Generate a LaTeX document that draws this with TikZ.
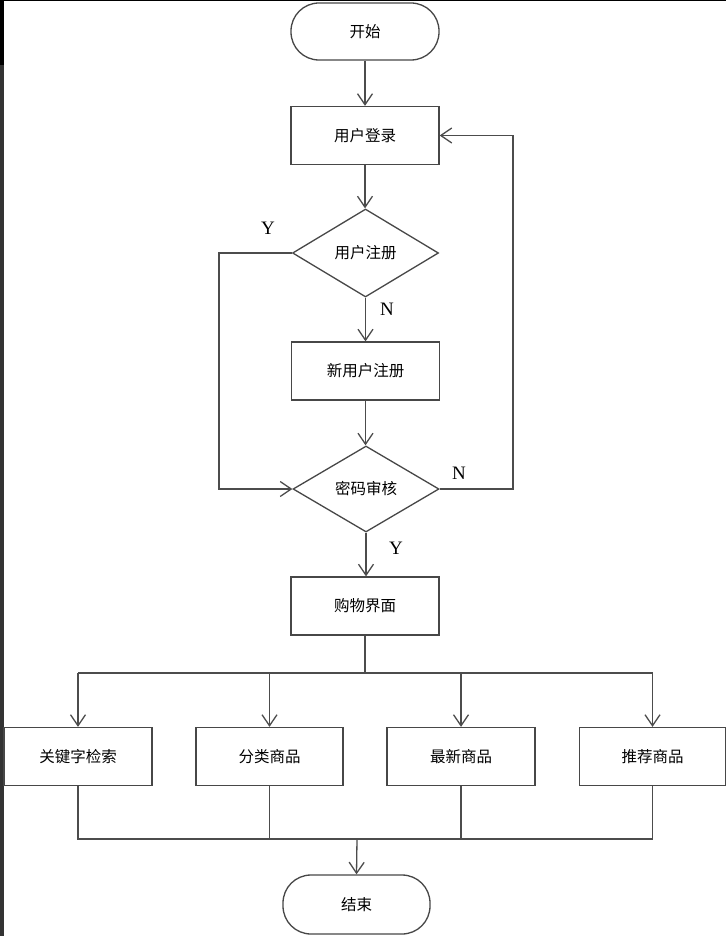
\documentclass[tikz,border=0pt]{standalone}
\usepackage{fontspec}
\newfontfamily\cjk{Noto Sans CJK SC}
\newfontfamily\lat{Liberation Serif}
\usetikzlibrary{shapes.geometric,arrows.meta}
\begin{document}
\begin{tikzpicture}[x=1pt,y=-1pt,
  line width=1.3pt,
  every node/.style={font=\cjk\fontsize{15.5}{17}\selectfont, draw=black!72, line width=1.3pt, inner sep=0pt},
  term/.style={rectangle, rounded corners=28pt, minimum width=148pt, minimum height=57pt},
  box/.style={rectangle, minimum width=148pt, minimum height=58pt},
  dec/.style={diamond, minimum width=146pt, minimum height=88pt},
  lbl/.style={draw=none, font=\lat\fontsize{19}{20}\selectfont},
  arr/.style={draw=black!70, -{Straight Barb[length=11pt,width=15pt,line width=1.3pt]}},
  ln/.style={draw=black!70}]
\useasboundingbox (0,0) rectangle (726,936);
\fill[white] (0,0) rectangle (726,936);
\fill[black!80] (0,0) rectangle (3.5,936);
\fill[black] (0,0) rectangle (3.5,65);
\fill[black] (0,0) rectangle (726,1.2);

\node[term] (start) at (365,31.5) {开始};
\node[box] (login) at (365,135.5) {用户登录};
\node[dec] (d1) at (365.5,253) {用户注册};
\node[box] (reg) at (365.5,371) {新用户注册};
\node[dec, minimum height=86pt] (d2) at (366,489) {密码审核};
\node[box] (shop) at (365,606) {购物界面};

\node[box] (b1) at (78,756.5) {关键字检索};
\node[box, minimum width=147pt] (b2) at (269.5,756.5) {分类商品};
\node[box] (b3) at (461,756.5) {最新商品};
\node[box, minimum width=146pt] (b4) at (652.5,756.5) {推荐商品};
\node[term, minimum width=147pt, minimum height=59pt] (end) at (356.5,904.5) {结束};

\node[lbl] (y1) at (268,228) {Y};
\node[lbl] (n1) at (387,309) {N};
\node[lbl] (n2) at (459,473) {N};
\node[lbl] (y2) at (396,548) {Y};

\coordinate (lc) at (219,253);
\coordinate (rc) at (513,489);
\coordinate (br) at (365,673);
\coordinate (mg) at (357,839);

\draw[arr] (start) -- (login);
\draw[arr] (login) -- (login |- d1.north);
\draw[arr] (d1.south) -- (d1.south |- reg.north);
\draw[arr] (reg.south) -- (reg.south |- d2.north);
\draw[arr] (d1.west) -- (lc) |- (d2.west);
\draw[arr] (d2.east) -- (rc) |- (login.east);
\draw[arr] (d2.south) -- (d2.south |- shop.north);

\draw[ln] (shop.south) -- (br);
\draw[ln] (b1.north |- br) -- (b4.north |- br);
\draw[arr] (b1.north |- br) -- (b1.north);
\draw[arr] (b2.north |- br) -- (b2.north);
\draw[arr] (b3.north |- br) -- (b3.north);
\draw[arr] (b4.north |- br) -- (b4.north);

\draw[ln] (b1.south) -- (b1.south |- mg) -- (b4.south |- mg) -- (b4.south);
\draw[ln] (b2.south) -- (b2.south |- mg);
\draw[ln] (b3.south) -- (b3.south |- mg);
\draw[arr] (mg) -- (end.north);
\end{tikzpicture}
\end{document}
